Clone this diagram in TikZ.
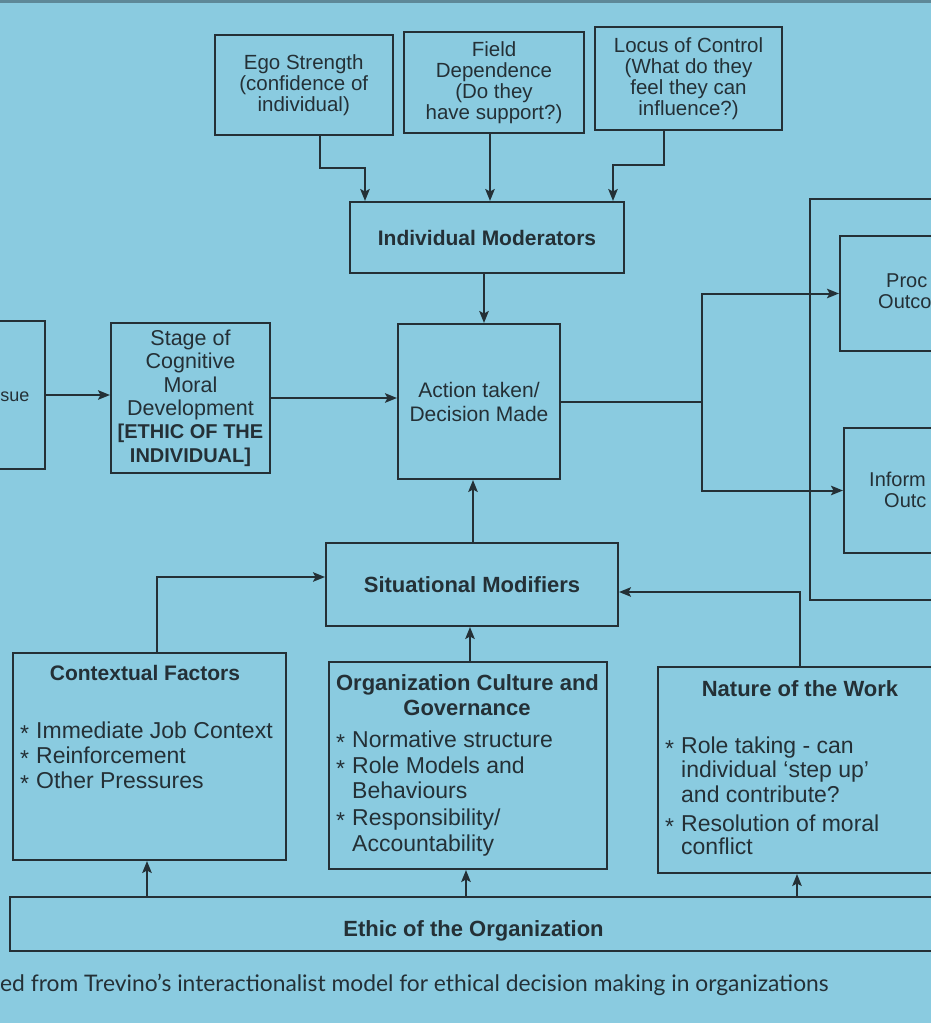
\documentclass[tikz,border=0pt]{standalone}
\usepackage{fontspec}
\setmainfont{Liberation Sans}
\newfontfamily\capfont{Lato}
\usetikzlibrary{arrows.meta}
\definecolor{bg}{HTML}{8ACBE0}
\definecolor{ink}{HTML}{243036}
\definecolor{pageedge}{HTML}{5E8898}
\newcommand\itm{\makebox[16pt][l]{\raisebox{-3pt}{*}}}
\begin{document}
\begin{tikzpicture}[x=1pt,y=-1pt,
  box/.style={draw=ink,line width=2pt,rectangle,inner sep=0pt,align=center,text=ink},
  txt/.style={text=ink,inner sep=0pt},
  arr/.style={draw=ink,line width=2pt,-{Stealth[length=12pt,width=9.5pt,inset=2.5pt]}},
  ln/.style={draw=ink,line width=2pt},
  fsTop/.style={font=\fontsize{20.5}{20.8}\selectfont},
  fsStage/.style={font=\fontsize{21.5}{23.4}\selectfont},
  fsHead/.style={font=\bfseries\fontsize{22}{25}\selectfont},
  fsItem/.style={font=\fontsize{23}{25}\selectfont},
  fsEdge/.style={font=\fontsize{20}{21}\selectfont}]
\useasboundingbox (0,0) rectangle (931,1023);
\fill[bg] (0,0) rectangle (931,1023);
\fill[pageedge] (0,0) rectangle (931,2.5);
\clip (0,0) rectangle (931,1023);

% top moderator boxes
\node[box,fsTop,minimum width=177.5pt,minimum height=100pt] (ego) at (303.75,85) {Ego Strength\\(confidence of\\individual)};
\node[box,fsTop,minimum width=180pt,minimum height=101pt] (field) at (494,82.5) {Field\\Dependence\\(Do they\\have support?)};
\node[box,fsTop,minimum width=187pt,minimum height=103pt] (locus) at (688.5,78.5) {Locus of Control\\(What do they\\feel they can\\influence?)};
\node[box,font=\bfseries\fontsize{21}{24}\selectfont,minimum width=274pt,minimum height=71pt] (indmod) at (487,237.5) {Individual Moderators};

% middle row
\node[box,minimum width=105pt,minimum height=148pt] (issue) at (-7.5,395) {};
\node[txt,font=\fontsize{18}{20}\selectfont,anchor=base east] (sue) at (29.5,401) {sue};
\node[box,fsStage,minimum width=159pt,minimum height=150pt] (stage) at (190.5,398) {Stage of\\Cognitive\\Moral\\Development\\{\bfseries\fontsize{20}{23.4}\selectfont [ETHIC OF THE}\\{\bfseries\fontsize{20}{23.4}\selectfont INDIVIDUAL]}};
\node[box,font=\fontsize{21}{24}\selectfont,minimum width=162pt,minimum height=155pt] (action) at (479,401.5) {Action taken/\\Decision Made};

% outcomes (cut at the right edge)
\node[box,minimum width=190pt,minimum height=401pt] (bigbox) at (905,399.5) {};
\node[box,minimum width=160pt,minimum height=115pt] (proc) at (920,293.5) {};
\node[txt,fsEdge,anchor=base west] (proct1) at (886,287) {Proc};
\node[txt,fsEdge,anchor=base west] (proct2) at (878,308) {Outco};
\node[box,minimum width=156pt,minimum height=125pt] (inform) at (922,490.5) {};
\node[txt,fsEdge,anchor=base west] (inft1) at (869,486) {Inform};
\node[txt,fsEdge,anchor=base west] (inft2) at (884,507) {Outc};

% situational modifiers
\node[box,font=\bfseries\fontsize{22}{25}\selectfont,minimum width=292pt,minimum height=83pt] (sitmod) at (472,584.5) {Situational Modifiers};

% bottom boxes
\node[box,minimum width=273pt,minimum height=207pt] (context) at (149.5,756.5) {};
\node[txt,font=\bfseries\fontsize{21}{25}\selectfont,anchor=base] (cth) at (145,680) {Contextual Factors};
\node[txt,fsItem,anchor=base west] (c1) at (20,738) {\itm Immediate Job Context};
\node[txt,fsItem,anchor=base west] (c2) at (20,763) {\itm Reinforcement};
\node[txt,fsItem,anchor=base west] (c3) at (20,788) {\itm Other Pressures};

\node[box,minimum width=277.5pt,minimum height=207pt] (org) at (467.75,765.5) {};
\node[txt,fsHead,anchor=base] (oth1) at (467.5,690) {Organization Culture and};
\node[txt,fsHead,anchor=base] (oth2) at (467,715) {Governance};
\node[txt,fsItem,anchor=base west] (o1) at (336,747) {\itm Normative structure};
\node[txt,fsItem,anchor=base west] (o2) at (336,773) {\itm Role Models and};
\node[txt,fsItem,anchor=base west] (o3) at (352,798) {Behaviours};
\node[txt,fsItem,anchor=base west] (o4) at (336,825) {\itm Responsibility/};
\node[txt,fsItem,anchor=base west] (o5) at (352,851) {Accountability};

\node[box,minimum width=302pt,minimum height=206pt] (nature) at (809,770) {};
\node[txt,fsHead,anchor=base] (nth) at (800,696) {Nature of the Work};
\node[txt,fsItem,anchor=base west] (n1) at (665,753) {\itm Role taking - can};
\node[txt,fsItem,anchor=base west] (n2) at (681,777) {individual ‘step up’};
\node[txt,fsItem,anchor=base west] (n3) at (681,802) {and contribute?};
\node[txt,fsItem,anchor=base west] (n4) at (665,831) {\itm Resolution of moral};
\node[txt,fsItem,anchor=base west] (n5) at (681,854) {conflict};

\node[box,minimum width=950pt,minimum height=54pt] (ethic) at (485,924) {};
\node[txt,fsHead,anchor=base] (etht) at (473.5,936) {Ethic of the Organization};

\node[txt,font=\capfont\fontsize{22.8}{24}\selectfont,anchor=base west] (cap) at (0,991) {ed from Trevino’s interactionalist model for ethical decision making in organizations};

% connectors
\draw[arr] ([xshift=16.25pt]ego.south) -- ++(0,32) -| ([xshift=-122pt]indmod.north);
\draw[arr] ([xshift=-4pt]field.south) -- ([xshift=-4pt]field.south |- indmod.north);
\draw[arr] ([xshift=-24.5pt]locus.south) -- ++(0,34) -| ([xshift=126pt]indmod.north);
\draw[arr] ([xshift=-3pt]indmod.south) -- ([xshift=-3pt]indmod.south |- action.north);
\draw[arr] (issue.east) -- (issue.east -| stage.west);
\draw[arr] (stage.east) -- (stage.east -| action.west);
\coordinate (split) at (702,401.5);
\draw[ln] (action.east) -- (split);
\draw[arr] (split) |- (proc.west);
\draw[arr] (split) |- (inform.west);
\draw[arr] ([xshift=1pt]sitmod.north) -- ([xshift=1pt]sitmod.north |- action.south);
\draw[arr] ([xshift=7.5pt]context.north) |- ([yshift=7.5pt]sitmod.west);
\draw[arr] ([xshift=2.25pt]org.north) -- ([xshift=2.25pt]org.north |- sitmod.south);
\draw[arr] ([xshift=-9pt]nature.north) |- ([yshift=-7.5pt]sitmod.east);
\draw[arr] ([xshift=-2.5pt]context.south |- ethic.north) -- ([xshift=-2.5pt]context.south);
\draw[arr] ([xshift=-1.75pt]org.south |- ethic.north) -- ([xshift=-1.75pt]org.south);
\draw[arr] ([xshift=-12pt]nature.south |- ethic.north) -- ([xshift=-12pt]nature.south);
\end{tikzpicture}
\end{document}
